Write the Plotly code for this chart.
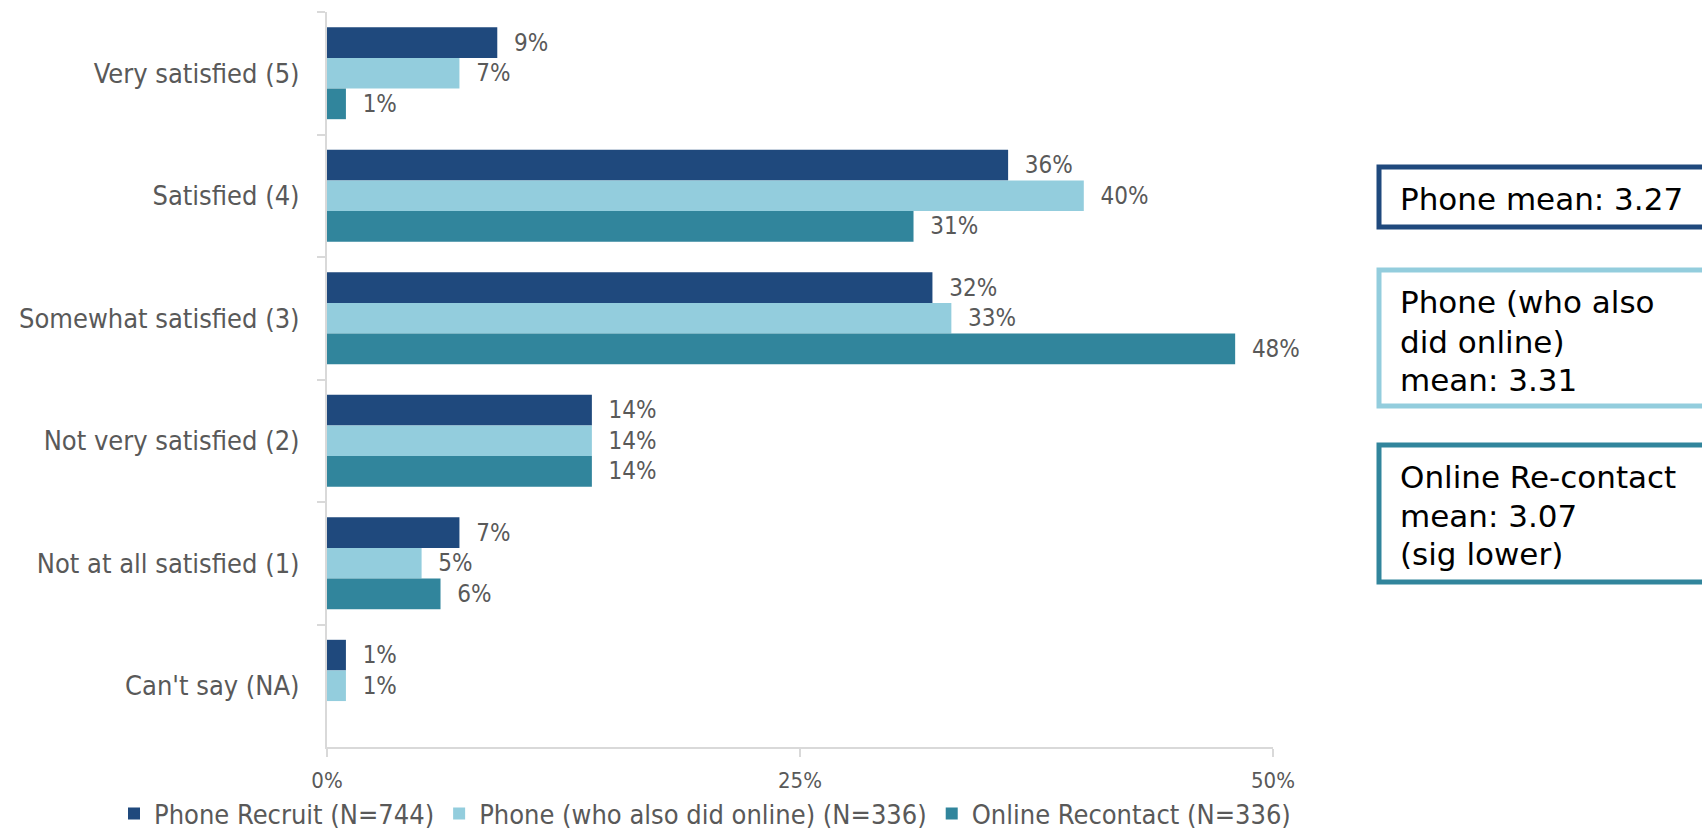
import plotly.graph_objects as go

# Survey responses: satisfaction level by sample
categories = [
    "Very satisfied (5)",
    "Satisfied (4)",
    "Somewhat satisfied (3)",
    "Not very satisfied (2)",
    "Not at all satisfied (1)",
    "Can't say (NA)",
]
series_names = [
    "Phone Recruit (N=744)",
    "Phone (who also did online) (N=336)",
    "Online Recontact (N=336)",
]
phone_recruit = [9, 36, 32, 14, 7, 1]
phone_also_online = [7, 40, 33, 14, 5, 1]
online_recontact = [1, 31, 48, 14, 6, None]

x_ticks = [0, 25, 50]
x_tick_labels = ["0%", "25%", "50%"]

# Mean scores shown in the callout boxes, one list of lines per box
mean_notes = [
    ["Phone mean: 3.27"],
    ["Phone (who also", "did online)", "mean: 3.31"],
    ["Online Re-contact", "mean: 3.07", "(sig lower)"],
]

colors = ["#1F497D", "#93CDDD", "#31859C"]
FONT = "DejaVu Sans Condensed, DejaVu Sans"
BOX_FONT = "DejaVu Sans"
GREY = "#595959"

W, H = 1702, 834
L, R, T, B = 327, 429, 12, 87
PW, PH = W - L - R, H - T - B


def px_x(px):
    return (px - L) / PW


def px_y(py):
    return (H - B - py) / PH


fig = go.Figure()
for name, vals, col in zip(series_names,
                           [phone_recruit, phone_also_online, online_recontact],
                           colors):
    fig.add_trace(go.Bar(
        y=categories,
        x=vals,
        name=name,
        orientation="h",
        marker=dict(color=col, line=dict(width=0)),
        text=[None if v is None else f"\u00a0\u00a0{v}%" for v in vals],
        textposition="outside",
        textfont=dict(family=FONT, size=24, color=GREY),
        cliponaxis=False,
        hoverinfo="skip",
    ))

fig.update_layout(
    width=W,
    height=H,
    margin=dict(l=L, r=R, t=T, b=B, autoexpand=False),
    paper_bgcolor="white",
    plot_bgcolor="white",
    barmode="group",
    bargap=0.25,
    bargroupgap=0,
    font=dict(family=FONT, color=GREY),
    showlegend=True,
    legend=dict(
        orientation="h",
        x=px_x(114),
        y=px_y(814),
        xanchor="left",
        yanchor="middle",
        font=dict(family=FONT, size=27, color=GREY),
        itemwidth=30,
        traceorder="normal",
        tracegroupgap=0,
        bgcolor="rgba(0,0,0,0)",
    ),
    xaxis=dict(
        range=[0, 50],
        tickvals=x_ticks,
        ticktext=x_tick_labels,
        ticks="outside",
        ticklen=8,
        tickcolor="#D9D9D9",
        tickwidth=2,
        showline=True,
        linecolor="#D9D9D9",
        linewidth=2,
        showgrid=False,
        zeroline=False,
        tickfont=dict(family=FONT, size=22, color=GREY),
        ticklabelstandoff=5,
    ),
    yaxis=dict(
        categoryorder="array",
        categoryarray=categories,
        autorange="reversed",
        tickson="boundaries",
        ticks="outside",
        ticklen=8,
        tickcolor="#D9D9D9",
        tickwidth=2,
        showline=True,
        linecolor="#D9D9D9",
        linewidth=2,
        showgrid=False,
        zeroline=False,
        tickfont=dict(family=FONT, size=27, color=GREY),
        ticklabelstandoff=20,
    ),
)

# Mean-score callout boxes on the right (box top/bottom and line centres in px)
boxes = [(167, 227), (270, 406), (445, 582)]
line_centres = [[197], [300, 340, 378], [475, 514, 552]]
for (top, bot), lines, ys, col in zip(boxes, mean_notes, line_centres, colors):
    fig.add_shape(
        type="rect", xref="paper", yref="paper",
        x0=px_x(1379), x1=px_x(1730), y0=px_y(bot), y1=px_y(top),
        line=dict(color=col, width=5), fillcolor="white", layer="above",
    )
    for line, yc in zip(lines, ys):
        fig.add_annotation(
            xref="paper", yref="paper",
            x=px_x(1398), y=px_y(yc + 2),
            xanchor="left", yanchor="middle", align="left",
            text=line, showarrow=False,
            font=dict(family=BOX_FONT, size=31, color="#000000"),
        )

fig.write_html("out.html")
